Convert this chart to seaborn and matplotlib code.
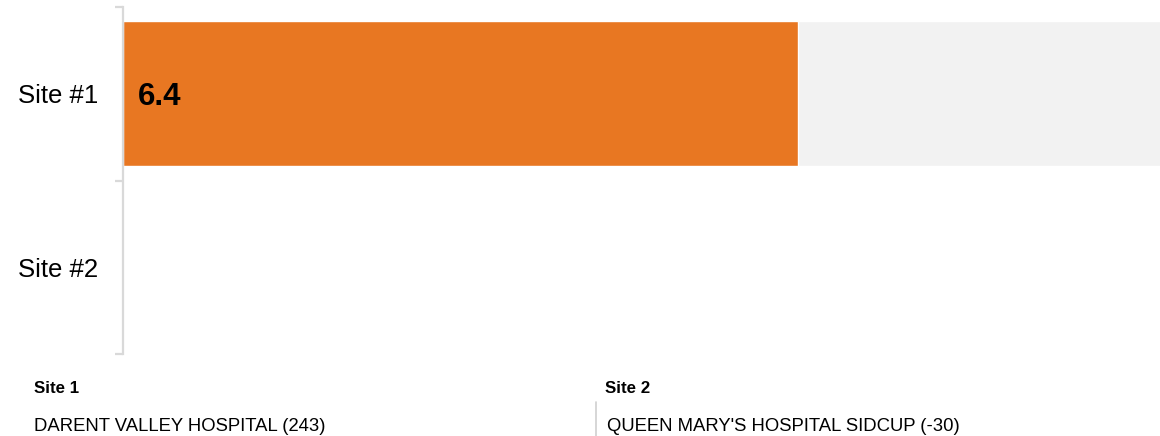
import numpy as np
import pandas as pd
import matplotlib
matplotlib.use("Agg")
import matplotlib.pyplot as plt
from matplotlib.lines import Line2D
import seaborn as sns

# ---- data ----
sites = ["Site #1", "Site #2"]
values = [6.4, np.nan]
scale_max = [10.0, np.nan]
value_labels = ["6.4", ""]
footer_titles = ["Site 1", "Site 2"]
footer_names = ["DARENT VALLEY HOSPITAL (243)", "QUEEN MARY'S HOSPITAL SIDCUP (-30)"]

sns.set_theme(style="white")
plt.rcParams['font.family'] = ['Liberation Sans', 'DejaVu Sans']

W, H = 1160, 436
fig = plt.figure(figsize=(W / 100, H / 100), dpi=100)
ax = fig.add_axes([123 / W, 1 - 354 / H, 1 - 123 / W, (354 - 7) / H])

df = pd.DataFrame({"site": sites, "value": values, "max": scale_max})
sns.barplot(data=df, x="max", y="site", order=sites, color="#F2F2F2",
            width=0.835, ax=ax, saturation=1, orient="h")
sns.barplot(data=df, x="value", y="site", order=sites, color="#E87722",
            width=0.835, ax=ax, saturation=1, orient="h")

ax.set_xlim(0, 9.83)
ax.set_ylim(1.5, -0.5)

for i, lab in enumerate(value_labels):
    if lab:
        ax.annotate(lab, xy=(0, i), xytext=(11, -2.5), textcoords="offset points",
                    ha="left", va="center", fontsize=22.5, fontweight="bold",
                    color="#000000")

ax.set_xlabel("")
ax.set_ylabel("")
ax.xaxis.set_visible(False)
for s in ["top", "right", "bottom"]:
    ax.spines[s].set_visible(False)
ax.spines["left"].set_color("#D9D9D9")
ax.spines["left"].set_linewidth(1.6)
ax.set_yticks([0, 1])
ax.set_yticklabels(sites, fontsize=18.5, color="#000000")
ax.tick_params(axis="y", which="major", length=0, pad=18)
ax.set_yticks([-0.5, 0.5, 1.5], minor=True)
ax.tick_params(axis="y", which="minor", length=6, width=1.6, color="#D9D9D9", left=True)

# footer
xs = [34 / W, 605 / W]
for x, t in zip(xs, footer_titles):
    fig.text(x, 1 - 388 / H, t, fontsize=12.2, fontweight="bold", va="center", ha="left", color="#000000")
for x, n in zip([34 / W, 607 / W], footer_names):
    fig.text(x, 1 - 426 / H, n, fontsize=13.3, va="center", ha="left", color="#000000")
fig.add_artist(Line2D([596 / W, 596 / W], [1 - 402 / H, 0], transform=fig.transFigure,
                      color="#D0D0D0", linewidth=1.2))

fig.savefig("out.png", dpi=100)
